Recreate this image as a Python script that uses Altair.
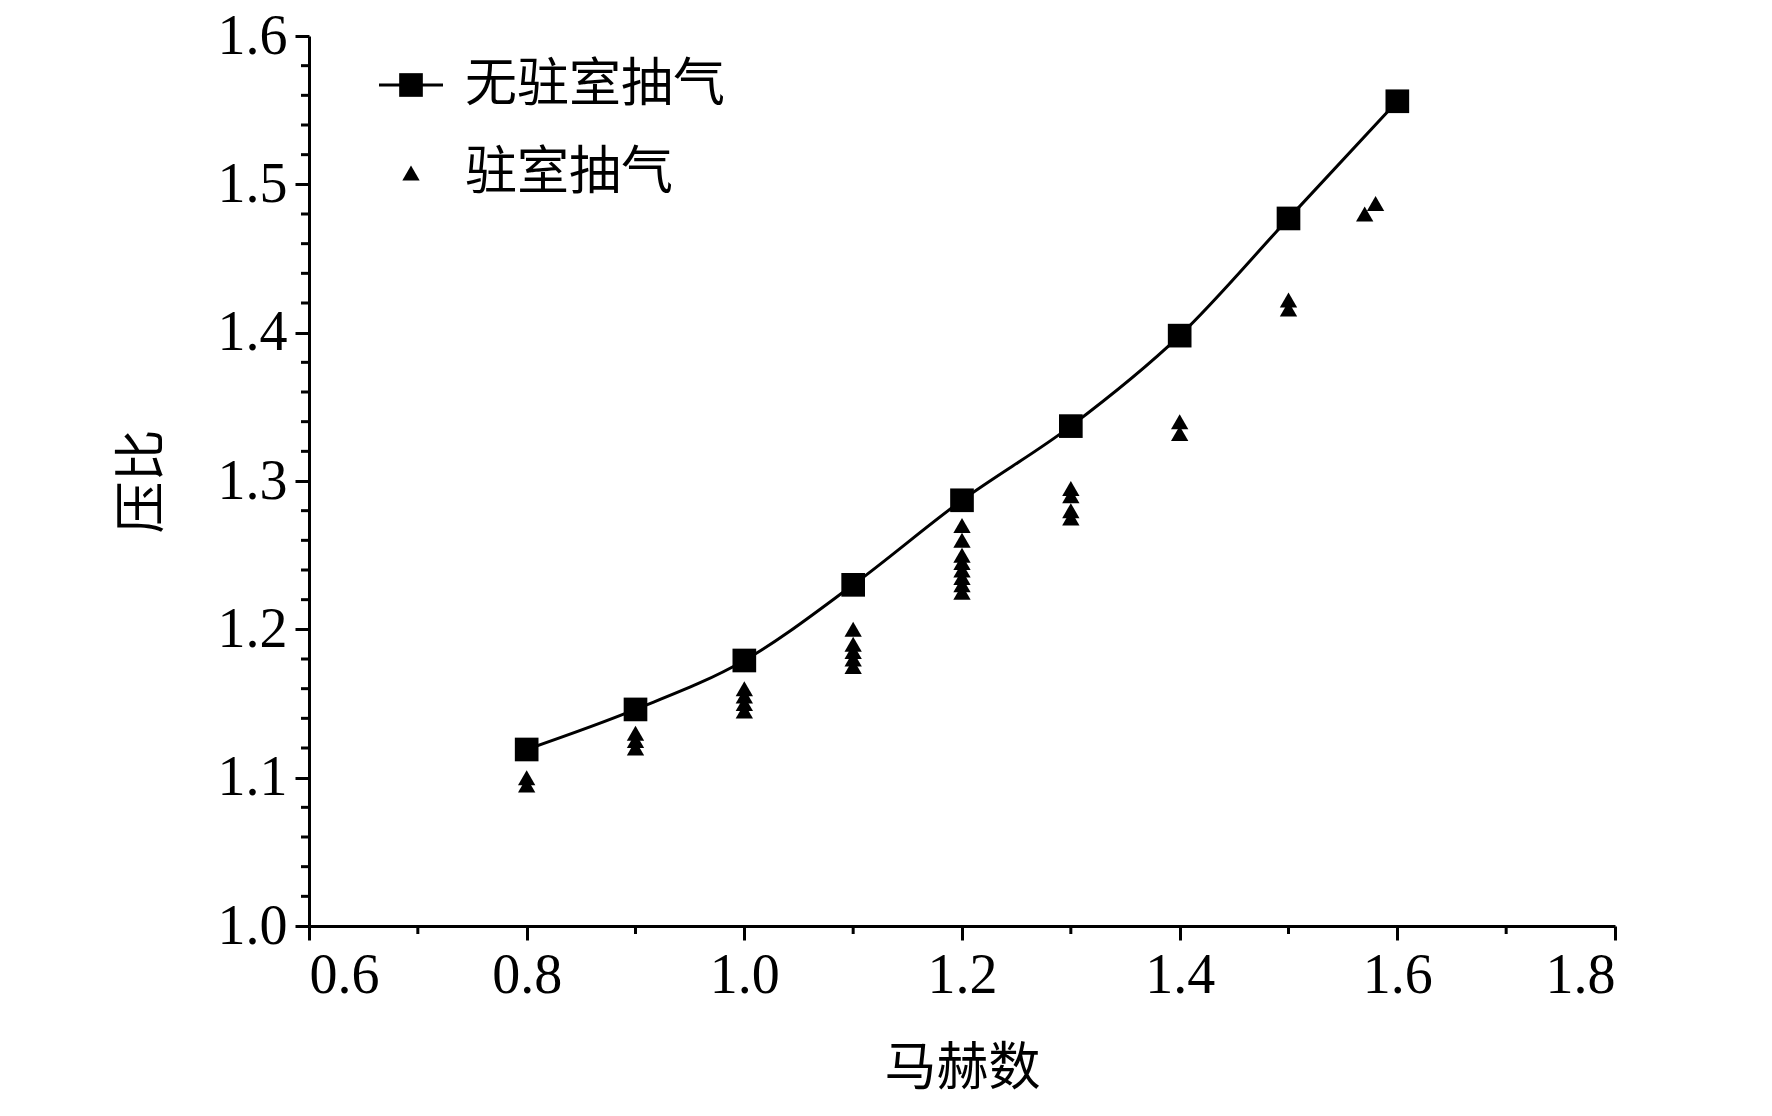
import altair as alt
import pandas as pd

mach_line = [0.8, 0.9, 1.0, 1.1, 1.2, 1.3, 1.4, 1.5, 1.6]
pr_line = [1.119, 1.146, 1.179, 1.230, 1.287, 1.337, 1.398, 1.477, 1.556]

mach_tri = [0.8, 0.8, 0.9, 0.9, 0.9, 1.0, 1.0, 1.0, 1.0,
            1.1, 1.1, 1.1, 1.1, 1.1,
            1.2, 1.2, 1.2, 1.2, 1.2, 1.2, 1.2, 1.2,
            1.3, 1.3, 1.3, 1.3, 1.4, 1.4, 1.5, 1.5, 1.57, 1.58]
pr_tri = [1.095, 1.100, 1.120, 1.125, 1.130, 1.145, 1.150, 1.155, 1.160,
          1.175, 1.180, 1.185, 1.190, 1.200,
          1.225, 1.230, 1.235, 1.240, 1.245, 1.250, 1.260, 1.270,
          1.275, 1.280, 1.290, 1.295, 1.332, 1.340, 1.416, 1.422, 1.480, 1.487]

legend_labels = ["无驻室抽气", "驻室抽气"]

d1 = pd.DataFrame({"x": mach_line, "y": pr_line})
d2 = pd.DataFrame({"x": mach_tri, "y": pr_tri})

W, H = 1306, 890
xs = alt.Scale(domain=[0.6, 1.8], nice=False)
ys = alt.Scale(domain=[1.0, 1.6], nice=False)
F = "Liberation Serif"
CJK = "Noto Sans CJK SC"

xax = alt.Axis(values=[0.6, 0.8, 1.0, 1.2, 1.4, 1.6, 1.8], format=".1f", title="马赫数",
               labelFont=F, labelFontSize=56, labelColor="black", titleFont=CJK, titleFontSize=52,
               titleFontWeight="normal", titleColor="black", titlePadding=40, tickSize=14,
               tickColor="black", domainColor="black", domainWidth=3, tickWidth=3, grid=False, labelPadding=8)
yax = alt.Axis(values=[1.0, 1.1, 1.2, 1.3, 1.4, 1.5, 1.6], format=".1f", title="压比",
               labelFont=F, labelFontSize=56, labelColor="black", titleFont=CJK, titleFontSize=52,
               titleFontWeight="normal", titleColor="black", titlePadding=48, tickSize=14,
               tickColor="black", domainColor="black", domainWidth=3, tickWidth=3, grid=False, labelPadding=8)

line = alt.Chart(d1).mark_line(color="black", strokeWidth=3, interpolate="monotone").encode(
    x=alt.X("x:Q", scale=xs, axis=xax), y=alt.Y("y:Q", scale=ys, axis=yax))
sq = alt.Chart(d1).mark_point(shape="square", filled=True, color="black", size=560, opacity=1).encode(
    x=alt.X("x:Q", scale=xs), y=alt.Y("y:Q", scale=ys))
tri = alt.Chart(d2).mark_point(shape="triangle-up", filled=True, color="black", size=300, opacity=1).encode(
    x=alt.X("x:Q", scale=xs), y=alt.Y("y:Q", scale=ys))

minor_x = alt.Chart(pd.DataFrame({"x": [0.7, 0.9, 1.1, 1.3, 1.5, 1.7]})).mark_rule(color="black", strokeWidth=3).encode(
    x=alt.X("x:Q", scale=xs), y=alt.value(H), y2=alt.value(H + 8))
minor_y = alt.Chart(pd.DataFrame({"y": [1.0 + 0.02 * i for i in range(31) if i % 5]})).mark_rule(color="black", strokeWidth=3).encode(
    y=alt.Y("y:Q", scale=ys), x=alt.value(0), x2=alt.value(-8))

lg = pd.DataFrame({"t": legend_labels})
leg_line = alt.Chart(lg.head(1)).mark_rule(color="black", strokeWidth=3).encode(
    x=alt.value(70), x2=alt.value(134), y=alt.value(49))
leg_sq = alt.Chart(lg.head(1)).mark_point(shape="square", filled=True, color="black", size=560, opacity=1).encode(
    x=alt.value(102), y=alt.value(49))
leg_tri = alt.Chart(lg.head(1)).mark_point(shape="triangle-up", filled=True, color="black", size=300, opacity=1).encode(
    x=alt.value(102), y=alt.value(137))
leg_t1 = alt.Chart(lg.head(1)).mark_text(align="left", baseline="middle", font=CJK, fontSize=52, color="black").encode(
    x=alt.value(156), y=alt.value(49), text="t:N")
leg_t2 = alt.Chart(lg.tail(1)).mark_text(align="left", baseline="middle", font=CJK, fontSize=52, color="black").encode(
    x=alt.value(156), y=alt.value(137), text="t:N")

chart = alt.layer(line, sq, tri, minor_x, minor_y, leg_line, leg_sq, leg_tri, leg_t1, leg_t2).properties(
    width=W, height=H, background="white", padding={"left": 108, "top": 0, "right": 10, "bottom": 0}
).configure_view(stroke=None)

chart.save("out.html", embed_options={"renderer": "svg", "actions": False})
